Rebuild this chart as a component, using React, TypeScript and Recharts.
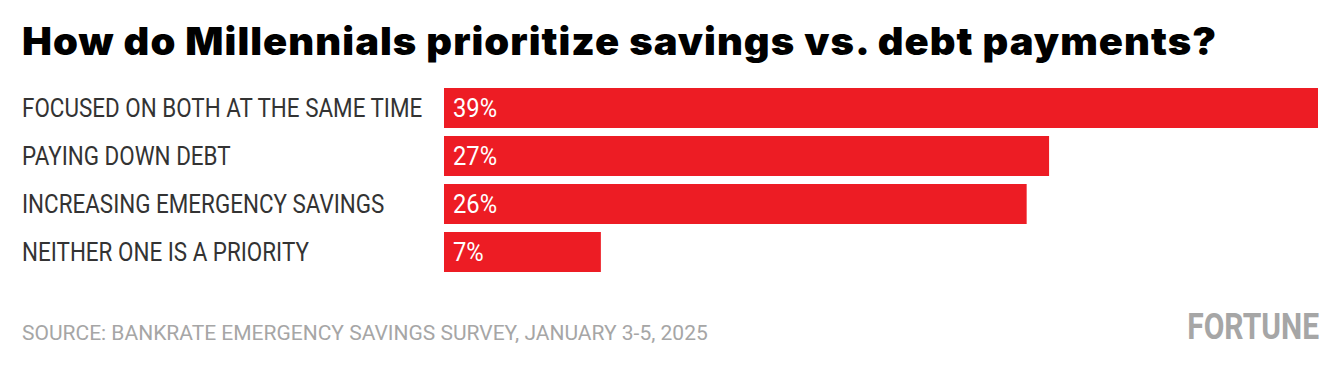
import React from 'react';
import { BarChart, Bar, XAxis, YAxis, LabelList } from 'recharts';

const categories = [
  'FOCUSED ON BOTH AT THE SAME TIME',
  'PAYING DOWN DEBT',
  'INCREASING EMERGENCY SAVINGS',
  'NEITHER ONE IS A PRIORITY',
];
const values = [39, 27, 26, 7];
const title = 'How do Millennials prioritize savings vs. debt payments?';
const source = 'SOURCE: BANKRATE EMERGENCY SAVINGS SURVEY, JANUARY 3-5, 2025';
const brand = 'FORTUNE';

const data = categories.map((c, i) => ({ name: c, value: values[i] }));

const FONT = 'Roboto, sans-serif';

const CatTick = (props: any) => {
  const { y, payload } = props;
  return (
    <text transform={`translate(22,${y}) scale(0.897,1)`} dy="0.36em" textAnchor="start" fill="#333" fontSize={25} fontFamily={FONT}>
      {payload.value}
    </text>
  );
};

const ValueLabel = (props: any) => {
  const { x, y, height, value } = props;
  return (
    <text transform={`translate(${x + 9},${y + height / 2}) scale(0.95,1)`} dy="0.36em" textAnchor="start" fill="#fff" fontSize={25} fontFamily={FONT}>
      {`${value}%`}
    </text>
  );
};

export default function App() {
  return (
    <div style={{ position: 'absolute', left: 0, top: 0, width: 1340, height: 372, background: '#fff', overflow: 'hidden' }}>
      <BarChart
        width={1340}
        height={372}
        data={data}
        layout="vertical"
        margin={{ top: 84, right: 22, bottom: 96, left: 22 }}
      >
        <XAxis type="number" domain={[0, 39]} hide />
        <YAxis type="category" dataKey="name" width={422} axisLine={false} tickLine={false} tick={<CatTick />} />
        <Bar dataKey="value" fill="#ED1C24" barSize={40} isAnimationActive={false}>
          <LabelList dataKey="value" content={<ValueLabel />} />
        </Bar>
      </BarChart>
      <svg width={1340} height={372} style={{ position: 'absolute', left: 0, top: 0, pointerEvents: 'none' }}>
        <text transform="translate(22,54.5) scale(1.05,1)" fontFamily="Inter, sans-serif" fontWeight={900} fontSize={38} letterSpacing={1} fill="#000">
          {title}
        </text>
        <text x={22} y={339.5} fontFamily={FONT} fontSize={21} fill="#a6a6a6">
          {source}
        </text>
        <text transform="translate(1319,339) scale(0.80,1)" textAnchor="end" fontFamily={FONT} fontWeight={700} fontSize={37.5} fill="#a6a6a6">
          {brand}
        </text>
      </svg>
    </div>
  );
}
